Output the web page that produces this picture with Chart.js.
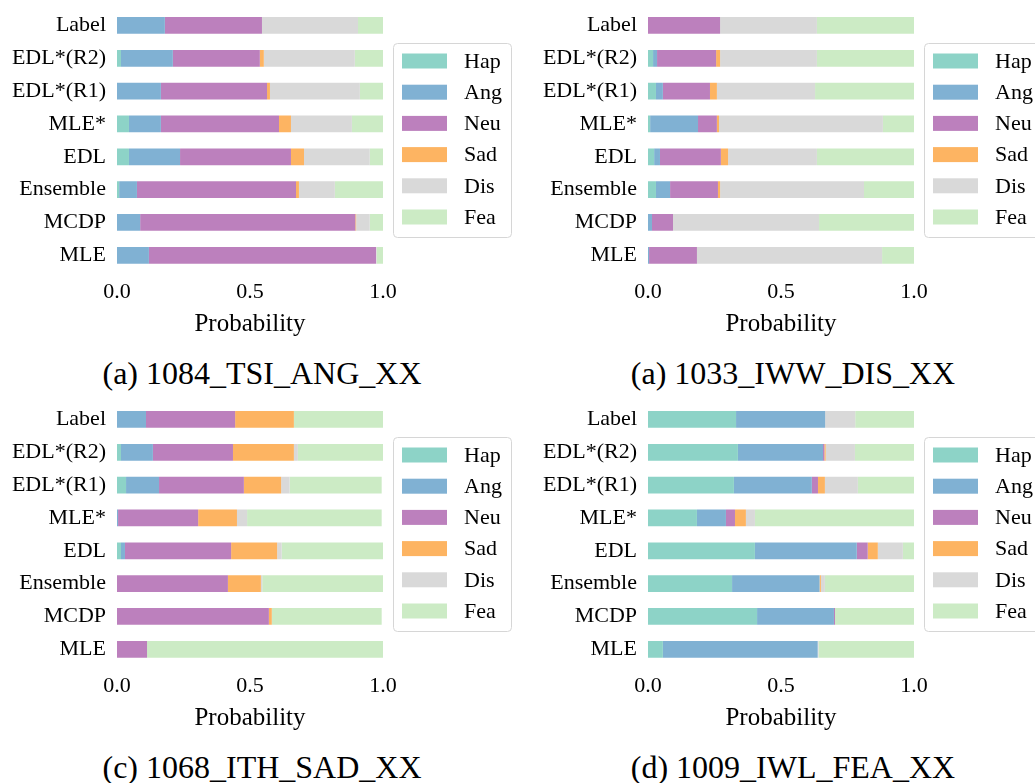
<!DOCTYPE html>
<html>
<head>
<meta charset="utf-8">
<script src="https://cdn.jsdelivr.net/npm/chart.js@4.4.1/dist/chart.umd.min.js"></script>
<style>
  html, body { margin: 0; padding: 0; background: #fff; }
  body { width: 1035px; height: 783px; overflow: hidden; position: relative; }
  canvas { position: absolute; }
  .caption {
    position: absolute; width: 500px; text-align: center;
    font-family: "Liberation Serif", serif; font-size: 32px; line-height: 32px; color: #000;
    white-space: nowrap;
  }
</style>
</head>
<body>
<canvas id="c1" width="517" height="345" style="left:0px;top:0px"></canvas>
<canvas id="c2" width="517" height="345" style="left:531px;top:0px"></canvas>
<canvas id="c3" width="517" height="345" style="left:0px;top:394px"></canvas>
<canvas id="c4" width="517" height="345" style="left:531px;top:394px"></canvas>
<div class="caption" style="left:12px;top:357px">(a) 1084_TSI_ANG_XX</div>
<div class="caption" style="left:543px;top:357px">(a) 1033_IWW_DIS_XX</div>
<div class="caption" style="left:12px;top:751px">(c) 1068_ITH_SAD_XX</div>
<div class="caption" style="left:543px;top:751px">(d) 1009_IWL_FEA_XX</div>
<script>
const methods = ["Label", "EDL*(R2)", "EDL*(R1)", "MLE*", "EDL", "Ensemble", "MCDP", "MLE"];
const emotions = ["Hap", "Ang", "Neu", "Sad", "Dis", "Fea"];
const colors = ["#8dd3c7", "#80b1d3", "#bc80bd", "#fdb462", "#d9d9d9", "#ccebc5"];
const xTicks = [0, 0.5, 1];

// 1084_TSI_ANG_XX, one array per emotion in method order
const tsiHap = [0, 0.015, 0, 0.045, 0.045, 0.008, 0, 0];
const tsiAng = [0.18, 0.195, 0.165, 0.12, 0.192, 0.067, 0.087, 0.12];
const tsiNeu = [0.365, 0.327, 0.399, 0.444, 0.417, 0.598, 0.809, 0.854];
const tsiSad = [0, 0.015, 0.011, 0.045, 0.049, 0.011, 0.003, 0];
const tsiDis = [0.361, 0.342, 0.338, 0.229, 0.247, 0.135, 0.051, 0.002];
const tsiFea = [0.094, 0.106, 0.087, 0.117, 0.05, 0.181, 0.05, 0.024];

// 1033_IWW_DIS_XX
const iwwHap = [0, 0.019, 0.03, 0.008, 0.023, 0.03, 0, 0];
const iwwAng = [0, 0.015, 0.026, 0.18, 0.022, 0.053, 0.015, 0.004];
const iwwNeu = [0.271, 0.222, 0.177, 0.071, 0.229, 0.18, 0.079, 0.18];
const iwwSad = [0, 0.015, 0.026, 0.008, 0.027, 0.008, 0, 0];
const iwwDis = [0.364, 0.364, 0.369, 0.616, 0.334, 0.541, 0.549, 0.696];
const iwwFea = [0.365, 0.365, 0.372, 0.117, 0.365, 0.188, 0.357, 0.12];

// 1068_ITH_SAD_XX
const ithHap = [0, 0.015, 0.034, 0, 0.015, 0, 0, 0];
const ithAng = [0.109, 0.12, 0.124, 0.004, 0.015, 0, 0, 0];
const ithNeu = [0.335, 0.301, 0.319, 0.301, 0.399, 0.417, 0.571, 0.113];
const ithSad = [0.221, 0.229, 0.14, 0.146, 0.173, 0.124, 0.011, 0];
const ithDis = [0, 0.015, 0.032, 0.038, 0.017, 0.005, 0, 0];
const ithFea = [0.335, 0.32, 0.346, 0.506, 0.381, 0.454, 0.413, 0.887];

// 1009_IWL_FEA_XX
const iwlHap = [0.331, 0.338, 0.323, 0.184, 0.402, 0.316, 0.41, 0.056];
const iwlAng = [0.335, 0.32, 0.293, 0.109, 0.383, 0.329, 0.289, 0.582];
const iwlNeu = [0, 0.005, 0.023, 0.034, 0.041, 0, 0.004, 0];
const iwlSad = [0, 0.005, 0.026, 0.041, 0.038, 0.005, 0, 0];
const iwlDis = [0.113, 0.11, 0.124, 0.034, 0.094, 0.015, 0, 0.003];
const iwlFea = [0.221, 0.222, 0.211, 0.598, 0.042, 0.335, 0.297, 0.359];

const FONT = "Liberation Serif";
Chart.defaults.color = "#000";
Chart.defaults.font.family = FONT;

// legend in a rounded frame to the right of the bars
const boxLegend = {
  id: "boxLegend",
  afterDraw(chart) {
    const ctx = chart.ctx;
    const x = 393.5, y = 43.5, w = 118, h = 194, r = 4;
    ctx.save();
    ctx.beginPath();
    ctx.moveTo(x + r, y);
    ctx.arcTo(x + w, y, x + w, y + h, r);
    ctx.arcTo(x + w, y + h, x, y + h, r);
    ctx.arcTo(x, y + h, x, y, r);
    ctx.arcTo(x, y, x + w, y, r);
    ctx.closePath();
    ctx.fillStyle = "#fff";
    ctx.fill();
    ctx.strokeStyle = "#d6d6d6";
    ctx.lineWidth = 1;
    ctx.stroke();
    ctx.font = "22px " + FONT;
    ctx.textBaseline = "middle";
    chart.data.datasets.forEach((ds, i) => {
      const cy = 61 + i * 31.2;
      ctx.fillStyle = ds.backgroundColor;
      ctx.fillRect(402, cy - 7.5, 45, 15);
      ctx.fillStyle = "#000";
      ctx.fillText(ds.label, 464, cy + 1);
    });
    ctx.restore();
  }
};

function makeChart(id, series) {
  const datasets = emotions.map((name, i) => ({
    label: name,
    data: series[i],
    backgroundColor: colors[i],
    borderWidth: 0,
    barPercentage: 0.51,
    categoryPercentage: 1
  }));

  return new Chart(document.getElementById(id), {
    type: "bar",
    data: { labels: methods, datasets: datasets },
    options: {
      indexAxis: "y",
      responsive: false,
      animation: false,
      layout: { padding: { top: 9, right: 134, bottom: 0, left: 0 } },
      plugins: { legend: { display: false }, tooltip: { enabled: false } },
      scales: {
        x: {
          stacked: true,
          min: 0,
          max: 1,
          afterBuildTicks: s => { s.ticks = xTicks.map(v => ({ value: v })); },
          grid: { display: false, drawTicks: false },
          border: { display: false },
          ticks: { padding: 7, font: { size: 22 }, callback: v => Number(v).toFixed(1) },
          title: { display: true, text: "Probability", font: { size: 25 }, padding: { top: 0, bottom: 6 } },
          afterFit: s => { s.height = 73.3; }
        },
        y: {
          stacked: true,
          grid: { display: false, drawTicks: false },
          border: { display: false },
          ticks: { padding: 11, font: { size: 22 } },
          afterFit: s => {
            s.width = 117;
            // labels may hang over the plot edge; keep the band spacing fixed
            s.paddingTop = 0;
            s.paddingBottom = 0;
          }
        }
      }
    },
    plugins: [boxLegend]
  });
}

makeChart("c1", [tsiHap, tsiAng, tsiNeu, tsiSad, tsiDis, tsiFea]);
makeChart("c2", [iwwHap, iwwAng, iwwNeu, iwwSad, iwwDis, iwwFea]);
makeChart("c3", [ithHap, ithAng, ithNeu, ithSad, ithDis, ithFea]);
makeChart("c4", [iwlHap, iwlAng, iwlNeu, iwlSad, iwlDis, iwlFea]);
</script>
</body>
</html>
